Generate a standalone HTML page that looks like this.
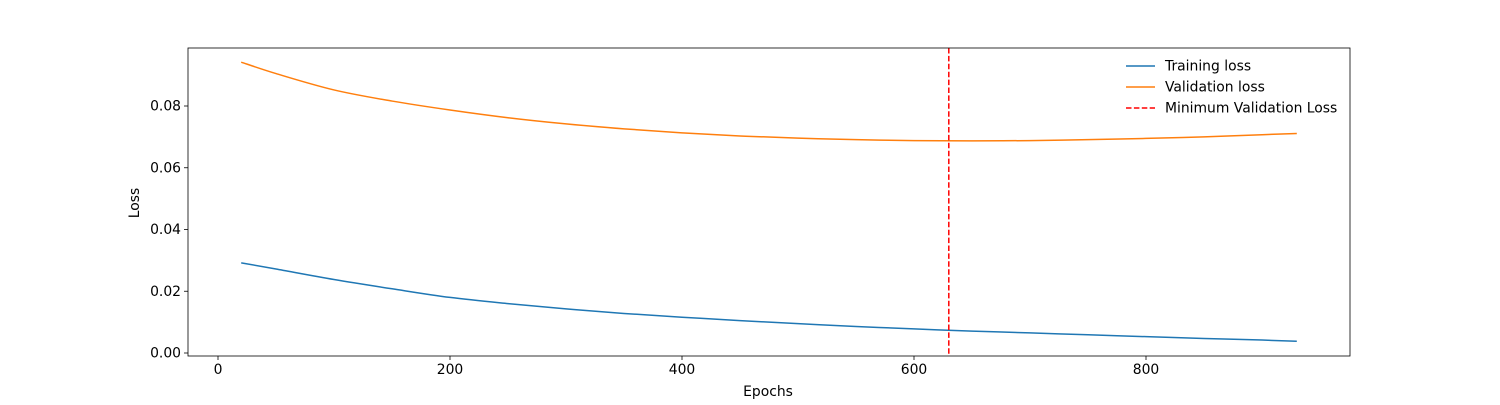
<!DOCTYPE html>
<html><head><meta charset="utf-8"><style>
body{margin:0;background:#fff;}
svg text{font-family:"DejaVu Sans","Liberation Sans",sans-serif;font-size:13.9px;fill:#000;}
</style></head><body>
<svg id="chart" width="1500" height="400" xmlns="http://www.w3.org/2000/svg">
<g id="plot"></g>
</svg>
<script>
const epochs = [20,50,100,150,200,250,300,350,400,450,500,550,600,650,700,750,800,850,900,930];
const trainLoss = [0.0292,0.0272,0.0238,0.0208,0.0180,0.0160,0.0143,0.0128,0.0116,0.0105,0.0095,0.0086,0.0078,0.0071,0.0065,0.0059,0.0053,0.0047,0.0042,0.0038];
const valLoss = [0.0942,0.0905,0.0852,0.0816,0.0787,0.0762,0.0742,0.0726,0.0713,0.0703,0.0696,0.0691,0.0688,0.0687,0.0688,0.0691,0.0695,0.0700,0.0707,0.0711];
const minEpoch = [630];
const xTicks = [0,200,400,600,800];
const yTicks = [0.00,0.02,0.04,0.06,0.08];

const L=188,R=1350,T=48,B=356;
const xs = v => 218 + v*1.16;
const ys = v => 353 - v*3087.5;
const NS="http://www.w3.org/2000/svg";
const g=document.getElementById('plot');
function mk(tag,attrs){const e=document.createElementNS(NS,tag);for(const k in attrs)e.setAttribute(k,attrs[k]);g.appendChild(e);return e;}

xTicks.forEach(t=>{
  const x=xs(t);
  const tk=mk('line',{x1:x,x2:x,y1:B,y2:B+4,stroke:'#000','stroke-width':0.8});
  
  
  const tx=mk('text',{x:x,y:B+18,'text-anchor':'middle'});tx.textContent=t;
  
  
});
yTicks.forEach(t=>{
  const y=ys(t);
  const tk=mk('line',{x1:L-4,x2:L,y1:y,y2:y,stroke:'#000','stroke-width':0.8});
  
  
  const tx=mk('text',{x:L-7,y:y+4.5,'text-anchor':'end'});tx.textContent=t.toFixed(2);
  
  
});

function path(vals,color,name){
  const P=epochs.map((e,i)=>[xs(e),ys(vals[i])]);
  let d='M'+P[0][0].toFixed(2)+','+P[0][1].toFixed(2);
  for(let i=0;i<P.length-1;i++){
    const p0=P[Math.max(0,i-1)],p1=P[i],p2=P[i+1],p3=P[Math.min(P.length-1,i+2)];
    const c1=[p1[0]+(p2[0]-p0[0])/6,p1[1]+(p2[1]-p0[1])/6];
    const c2=[p2[0]-(p3[0]-p1[0])/6,p2[1]-(p3[1]-p1[1])/6];
    d+=' C'+c1[0].toFixed(2)+','+c1[1].toFixed(2)+' '+c2[0].toFixed(2)+','+c2[1].toFixed(2)+' '+p2[0].toFixed(2)+','+p2[1].toFixed(2);
  }
  const p=mk('path',{d:d,fill:'none',stroke:color,'stroke-width':1.5});
  
  
}
path(trainLoss,'#1f77b4','training-loss-line');
path(valLoss,'#ff7f0e','validation-loss-line');
const vl=mk('line',{x1:xs(minEpoch[0]),x2:xs(minEpoch[0]),y1:T,y2:B,stroke:'#ff0000','stroke-width':1.5,'stroke-dasharray':'5.5,2.4'});



const fr=mk('rect',{x:L,y:T,width:R-L,height:B-T,fill:'none',stroke:'#000','stroke-width':0.8});



const xl=mk('text',{x:768,y:396,'text-anchor':'middle'});xl.textContent='Epochs';


const yl=mk('text',{x:0,y:0,'text-anchor':'middle',transform:'translate(139,203) rotate(-90)'});yl.textContent='Loss';



const legend=[['Training loss','#1f77b4',null],['Validation loss','#ff7f0e',null],['Minimum Validation Loss','#ff0000','5.5,2.4']];
legend.forEach((it,i)=>{
  const y=66+i*21;
  const a={x1:1126,x2:1155,y1:y,y2:y,stroke:it[1],'stroke-width':1.5};
  if(it[2])a['stroke-dasharray']=it[2];
  const ln=mk('line',a);
  
  
  const tx=mk('text',{x:1165,y:y+4.5});tx.textContent=it[0];
  
  
});
</script>
</body></html>
